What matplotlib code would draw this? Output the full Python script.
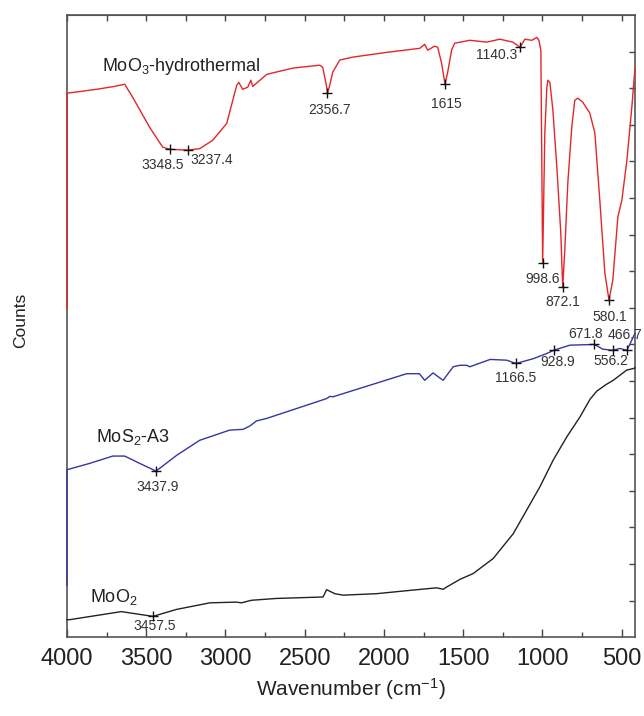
import numpy as np
import matplotlib
matplotlib.use("Agg")
import matplotlib.pyplot as plt

plt.rcParams['font.family'] = ['Liberation Sans', 'DejaVu Sans']
plt.rcParams['mathtext.fontset'] = 'custom'
plt.rcParams['mathtext.rm'] = 'Liberation Sans'
plt.rcParams['mathtext.it'] = 'Liberation Sans:italic'

# MoO3-hydrothermal (red)
moo3_wn = [4000, 4000, 3989, 3900, 3800, 3700, 3636, 3585, 3478, 3396, 3348.5, 3237.4,
           3162, 3080, 2992, 2954, 2929, 2916, 2891, 2859, 2840, 2828, 2739, 2575,
           2405, 2386, 2361, 2356.7, 2342, 2323, 2279, 2197, 1983, 1774, 1743, 1724,
           1680, 1661, 1636, 1615, 1599, 1573, 1554, 1458, 1351, 1269, 1187, 1140.3,
           1111, 1067, 1035, 1022, 1010, 998.6, 985, 972, 966, 953, 934, 909, 884,
           872.1, 859, 840, 815, 796, 777, 746, 701, 669, 638, 606, 580.1, 556, 524,
           499, 467, 436, 416]
moo3_y = [8.96, 14.87, 14.87, 14.92, 14.98, 15.05, 15.11, 14.75, 13.93, 13.39, 13.33, 13.31,
          13.35, 13.58, 14.04, 14.67, 15.08, 15.16, 14.97, 15.03, 15.22, 15.05, 15.38, 15.55,
          15.63, 15.57, 15.03, 14.86, 15.08, 15.44, 15.77, 15.85, 15.98, 16.09, 16.20, 16.04,
          16.15, 16.12, 15.68, 15.11, 15.41, 16.04, 16.23, 16.31, 16.26, 16.34, 16.26, 16.12,
          16.34, 16.31, 16.39, 16.31, 16.04, 10.22, 13.77, 15.03, 15.22, 15.16, 14.40, 12.84, 11.04,
          9.56, 10.57, 12.40, 13.93, 14.67, 14.73, 14.62, 14.32, 13.77, 11.94, 9.95, 9.21, 9.75, 11.48,
          11.94, 13.03, 14.48, 15.55]

# MoS2-A3 (blue)
mos2_wn = [4000, 4000, 3989, 3857, 3711, 3636, 3541, 3437.9, 3308, 3163, 2973, 2889,
           2847, 2804, 2739, 2362, 2341, 2321, 1857, 1776, 1743, 1690, 1627, 1563,
           1521, 1479, 1458, 1330, 1226, 1166.5, 1058, 974, 928.9, 827, 671.8, 619,
           556.2, 511, 466.7, 427, 416]
mos2_y = [1.42, 4.59, 4.59, 4.75, 4.95, 4.95, 4.75, 4.54, 4.97, 5.38, 5.66, 5.68,
          5.77, 5.91, 5.98, 6.52, 6.58, 6.57, 7.20, 7.20, 7.02, 7.22, 7.02, 7.39,
          7.43, 7.43, 7.39, 7.59, 7.57, 7.48, 7.61, 7.75, 7.84, 7.98, 8.00, 7.87,
          7.84, 7.89, 7.84, 8.20, 8.30]

# MoO2 (black)
moo2_wn = [4000, 3983, 3657, 3457.5, 3309, 3099, 2931, 2899, 2836, 2678, 2384, 2362,
           2310, 2258, 2047, 1837, 1668, 1626, 1605, 1521, 1437, 1311, 1184, 1100,
           1016, 932, 847, 763, 700, 658, 600, 553, 468, 427, 416]
moo2_y = [0.48, 0.48, 0.70, 0.57, 0.76, 0.94, 0.96, 0.94, 1.01, 1.06, 1.10, 1.30,
          1.19, 1.15, 1.19, 1.28, 1.35, 1.31, 1.37, 1.58, 1.74, 2.15, 2.83, 3.47,
          4.11, 4.84, 5.47, 6.02, 6.50, 6.72, 6.90, 7.02, 7.30, 7.34, 7.36]

# marked peaks
moo3_peaks = [3348.5, 3237.4, 2356.7, 1615, 1140.3, 998.6, 872.1, 580.1]
mos2_peaks = [3437.9, 1166.5, 928.9, 671.8, 556.2, 466.7]
moo2_peaks = [3457.5]

# label offsets in pixels (dx, dy, ha)
moo3_offs = [(-8, -16, 'center'), (3, -10, 'left'), (2, -17, 'center'), (1, -20, 'center'),
             (-3, -8, 'right'), (0, -16, 'center'), (0, -15, 'center'), (1, -17, 'center')]
mos2_offs = [(2, -16, 'center'), (0, -15, 'center'), (4, -12, 'center'), (-9, 10, 'center'),
             (-2, -11, 'center'), (-19, 15, 'left')]
moo2_offs = [(2, -10, 'center')]

fig = plt.figure(figsize=(6.44, 7.16), dpi=100)
ax = fig.add_axes([0.104, 0.110, 0.882, 0.869])

series = [
    (moo3_wn, moo3_y, '#e3262b', moo3_peaks, moo3_offs),
    (mos2_wn, mos2_y, '#3535a5', mos2_peaks, mos2_offs),
    (moo2_wn, moo2_y, '#222222', moo2_peaks, moo2_offs),
]
for wn, y, col, peaks, offs in series:
    ax.plot(wn, y, color=col, lw=1.0, zorder=4, clip_on=False)
    wn_a = np.array(wn)[::-1]
    y_a = np.array(y)[::-1]
    py = np.interp(peaks, wn_a, y_a)
    ax.plot(peaks, py, '+', color='#111111', ms=7, mew=1.0, zorder=5)
    for p, v, (dx, dy, ha) in zip(peaks, py, offs):
        ax.annotate(f'{p:g}', (p, v), xytext=(dx, dy), textcoords='offset pixels',
                    ha=ha, va='center', fontsize=10, color='#333333',
                    annotation_clip=False)

ax.text(3781, 15.6, 'MoO$_3$-hydrothermal', fontsize=13, color='#222222', va='center')
ax.text(3819, 5.46, 'MoS$_2$-A3', fontsize=13, color='#222222', va='center')
ax.text(3857, 1.09, 'MoO$_2$', fontsize=13, color='#222222', va='center')

ax.set_xlim(4000, 416)
ax.set_ylim(0, 17)

ax.set_xticks(np.arange(4000, 499, -500))
ax.set_xticks(np.arange(3750, 416, -500), minor=True)
ax.tick_params(axis='x', which='major', direction='in', length=6, width=1, labelsize=17,
               pad=8, colors='#444444', labelcolor='#222222')
ax.tick_params(axis='x', which='minor', direction='in', length=3.5, width=1, colors='#444444')

top = ax.secondary_xaxis('top')
top.set_xticks(np.arange(4000, 416, -250))
top.set_xticklabels([])
top.tick_params(direction='in', length=4, width=1, colors='#444444')
top.spines['top'].set_color('#555555')

ax.yaxis.tick_right()
ax.set_yticks(np.arange(1, 17))
ax.set_yticklabels([])
ax.tick_params(axis='y', direction='in', length=4, width=1, colors='#444444')

for s in ax.spines.values():
    s.set_color('#555555')
    s.set_linewidth(1.2)

ax.set_xlabel('Wavenumber (cm$^{-1}$)', fontsize=15, color='#222222', labelpad=4)
ax.yaxis.set_label_position('left')
ax.set_ylabel('Counts', fontsize=12.5, color='#222222')
ax.yaxis.set_label_coords(-0.069, 0.51)

plt.savefig('out.png', dpi=100)
